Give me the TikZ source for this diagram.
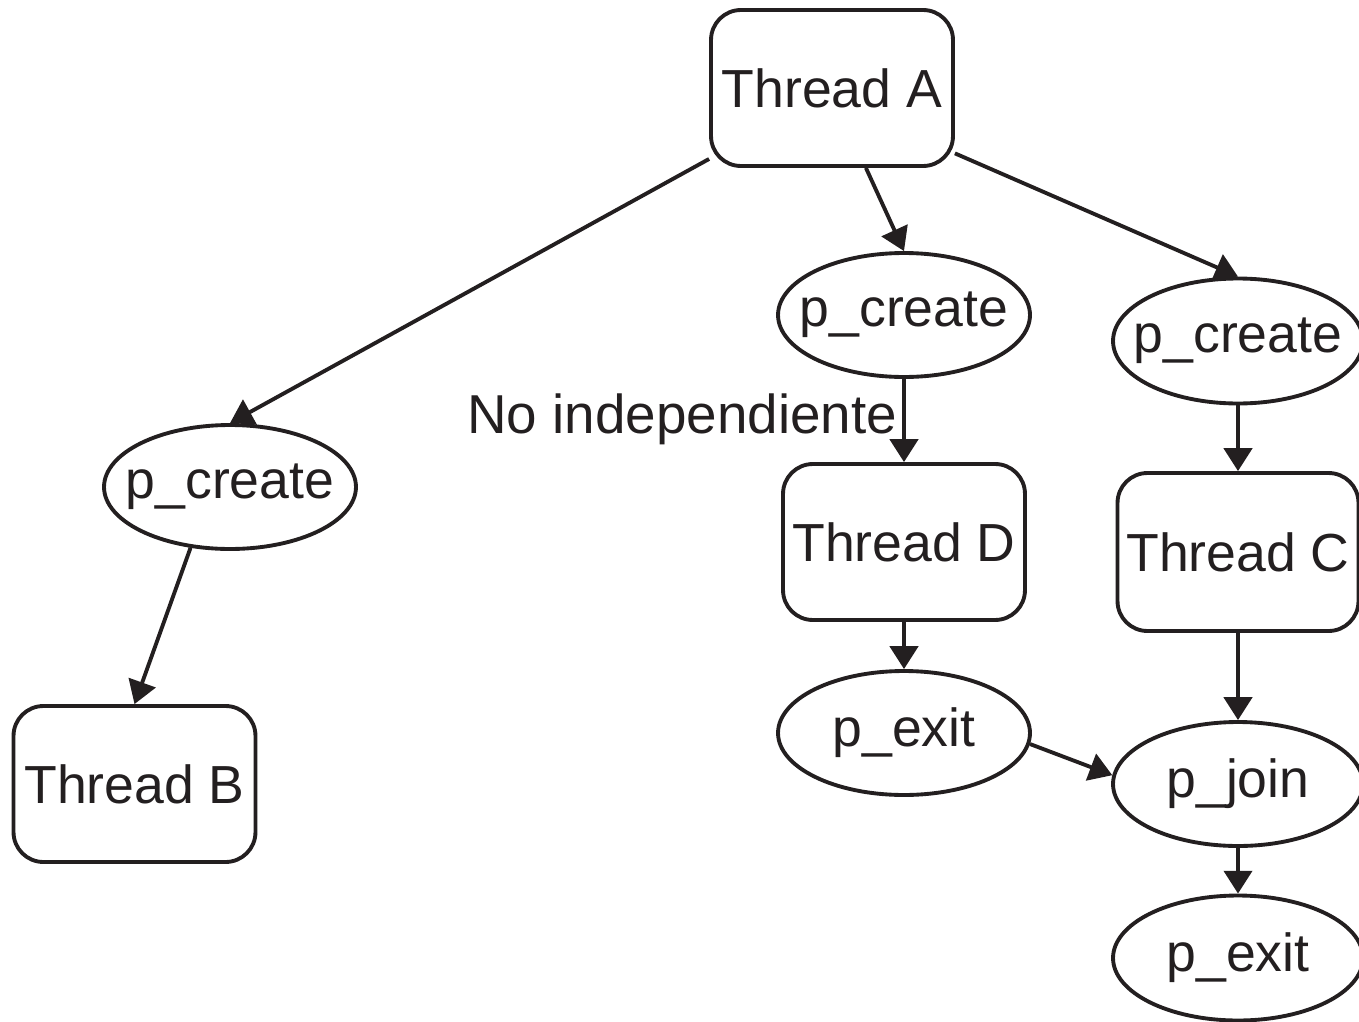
\documentclass[tikz,border=0pt]{standalone}
\usepackage{fontspec}
\setmainfont{Liberation Sans}
\usetikzlibrary{shapes.geometric,arrows.meta}
\definecolor{ink}{HTML}{231F20}
\newcommand{\calltext}[1]{\makebox[0pt]{#1}}
\begin{document}
\begin{tikzpicture}[x=0.02cm,y=-0.02cm,
  font=\fontsize{30.5}{36}\selectfont,
  every node/.style={text=ink},
  threadbox/.style={draw=ink,line width=2.2pt,rounded corners=17pt,
    inner sep=0pt,minimum width=4.84cm,minimum height=3.12cm},
  callnode/.style={ellipse,draw=ink,line width=2.2pt,inner sep=0pt,
    minimum width=5.04cm,minimum height=2.48cm},
  flow/.style={draw=ink,line width=2.2pt,-{Triangle[length=13pt,width=16pt]}}]
  \useasboundingbox (0,0) rectangle (1359,1021);

  % thread boxes
  \node[threadbox] (tA) at (832,88)    {Thread A};
  \node[threadbox] (tB) at (134.5,784) {Thread B};
  \node[threadbox] (tD) at (904,542)   {Thread D};
  \node[threadbox,minimum width=4.82cm,minimum height=3.16cm] (tC) at (1238,552) {Thread C};

  % library calls
  \node[callnode] (pcL) at (230,487)  {\calltext{p\_create}};
  \node[callnode] (pcM) at (904,315)  {\calltext{p\_create}};
  \node[callnode,minimum width=5cm,minimum height=2.5cm] (pcR) at (1238,341) {\calltext{p\_create}};
  \node[callnode] (peM) at (904,733)  {\calltext{p\_exit}};
  \node[callnode,minimum width=5cm] (pj)  at (1238,784) {\calltext{p\_join}};
  \node[callnode,minimum width=5cm,minimum height=2.5cm] (peR) at (1238,958) {\calltext{p\_exit}};

  % label of the joinable thread
  \node[anchor=base west,inner sep=0pt,font=\fontsize{31.2}{36}\selectfont] (lbl) at (467,433) {No independiente};

  % connectors
  \draw[flow] (tA.210) -- (pcL.north);
  \draw[flow] (tA.293) -- (pcM.north);
  \draw[flow] (tA.332) -- (pcR.north);
  \draw[flow] (pcL.237) -- (tB.north);
  \draw[flow] (pcM.south) -- (tD.north);
  \draw[flow] (pcR.south) -- (tC.north);
  \draw[flow] (tD.south) -- (peM.north);
  \draw[flow] (tC.south) -- (pj.north);
  \draw[flow] (peM.-5) -- (pj.176);
  \draw[flow] (pj.south) -- (peR.north);
\end{tikzpicture}
\end{document}
